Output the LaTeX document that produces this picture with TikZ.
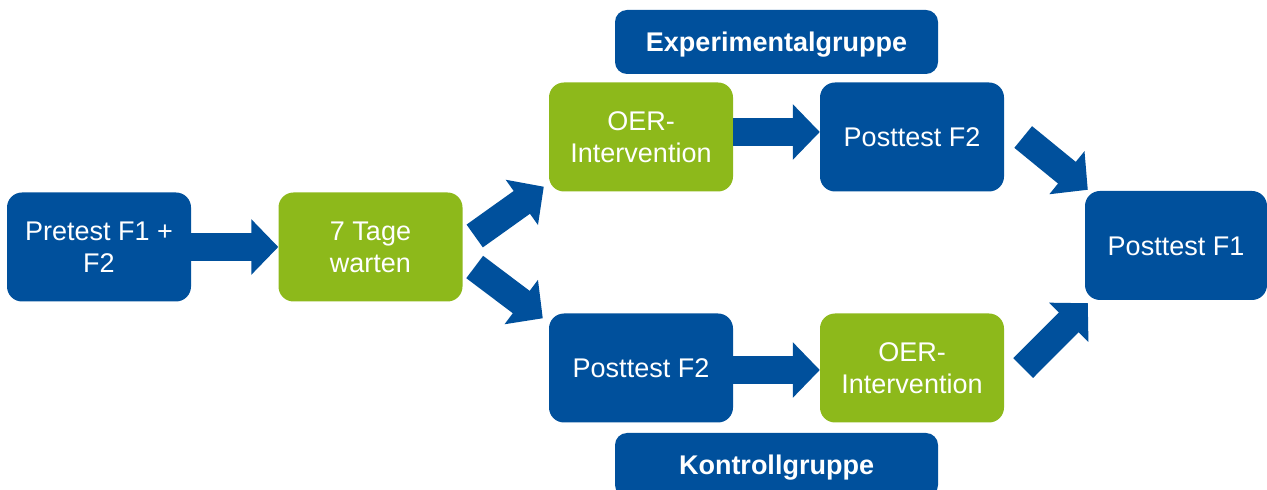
\documentclass[tikz,border=0pt]{standalone}
\usepackage{fontspec}
\setmainfont{Liberation Sans}
\usetikzlibrary{arrows.meta}

\definecolor{uniblue}{RGB}{0,80,156}
\definecolor{unigreen}{RGB}{141,185,27}

\tikzstyle{stepbox}=[rounded corners=15pt, minimum width=184pt, minimum height=109pt,
  inner sep=0pt, align=center, text=white, font=\fontsize{27}{32}\selectfont]
\tikzstyle{bluebox}=[stepbox, fill=uniblue]
\tikzstyle{greenbox}=[stepbox, fill=unigreen]
\tikzstyle{oneline}=[text height=19.5pt, text depth=0pt]
\tikzstyle{groupbox}=[rounded corners=12pt, fill=uniblue, minimum width=323pt,
  minimum height=64pt, inner sep=0pt, text=white, oneline,
  font=\fontsize{27}{32}\selectfont\bfseries]
\tikzstyle{flow}=[uniblue, line width=28pt, -{Triangle[length=27pt, width=54pt]}]

\begin{document}
\begin{tikzpicture}[x=1pt, y=1pt]
      \clip (0,0) rectangle (1267,490);
      \node[bluebox] (pre) at (99, 243) {Pretest F1 +\\F2};
      \node[greenbox] (wait) at (370.5, 243) {7 Tage\\warten};
      \node[greenbox] (oerA) at (641, 353) {OER-\\Intervention};
      \node[bluebox, oneline] (postA) at (912, 353) {Posttest F2};
      \node[bluebox, oneline] (postB) at (641, 122) {Posttest F2};
      \node[greenbox] (oerB) at (912, 122) {OER-\\Intervention};
      \node[bluebox, oneline, minimum width=182pt] (final) at (1176, 244.5) {Posttest F1};
      \node[groupbox] (exp) at (776.5, 448) {Experimentalgruppe};
      \node[groupbox] (ctrl) at (776.5, 25) {Kontrollgruppe};

      \draw[flow] (pre) to (wait);
      \draw[flow] ([shift={(12,11)}]wait.east) to ([shift={(-5,5)}]oerA.south west);
      \draw[flow] ([shift={(12,-20)}]wait.east) to ([shift={(-6,-5)}]postB.north west);
      \draw[flow] ([yshift=5]oerA.east) to ([yshift=5]postA.west);
      \draw[flow] ([yshift=-2]postB.east) to ([yshift=-2]oerB.west);
      \draw[flow] ([xshift=19]postA.east) to ([shift={(3,1)}]final.north west);
      \draw[flow] ([xshift=19]oerB.east) to ([shift={(3,-3)}]final.south west);
    \end{tikzpicture}
\end{document}
